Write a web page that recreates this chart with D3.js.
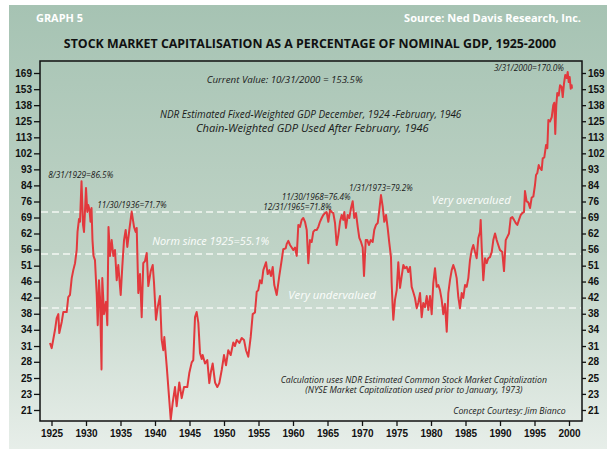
<!DOCTYPE html>
<html lang="en">
<head>
    <meta charset="UTF-8">
    <title>Stock Market Capitalisation / GDP</title>
    <script src="https://d3js.org/d3.v7.min.js"></script>
    <style>
        body { margin: 0; background: #fff; }
        svg { display: block; font-family: "Open Sans", "Noto Sans", sans-serif; }
        .axis text { font-size: 10px; font-weight: 700; fill: #111; }
        .axis path { display: none; }
        .axis line { stroke: #111; stroke-width: 1.3px; }
        .note { font-style: italic; fill: #1a1a1a; }
        .band-label { font-style: italic; fill: #fbfdfb; }
    </style>
</head>
<body>
<svg width="607" height="449"></svg>
<script>
// decimal year of each reading
const dates = [
    1924.78, 1925.03, 1925.51, 1925.75, 1925.99, 1926.13, 1926.48, 1926.71, 1927.20, 1927.43,
    1927.68, 1927.93, 1928.16, 1928.41, 1928.65, 1928.77, 1928.99, 1929.13, 1929.35, 1929.57,
    1929.71, 1929.86, 1930.00, 1930.19, 1930.33, 1930.51, 1930.65, 1930.80, 1930.94, 1931.09,
    1931.30, 1931.55, 1931.70, 1931.88, 1932.03, 1932.25, 1932.36, 1932.61, 1932.90, 1933.09,
    1933.26, 1933.48, 1933.72, 1933.96, 1934.20, 1934.45, 1934.68, 1935.03, 1935.26, 1935.51,
    1935.75, 1935.99, 1936.28, 1936.62, 1936.96, 1937.20, 1937.35, 1937.58, 1937.83, 1938.07,
    1938.30, 1938.55, 1938.80, 1939.03, 1939.38, 1939.67, 1939.86, 1940.14, 1940.39, 1940.72,
    1940.97, 1941.20, 1941.35, 1941.70, 1942.07, 1942.28, 1942.57, 1942.90, 1943.14, 1943.52,
    1943.87, 1944.20, 1944.68, 1944.97, 1945.32, 1945.55, 1945.80, 1946.04, 1946.28, 1946.52,
    1946.77, 1946.91, 1947.25, 1947.58, 1947.87, 1948.12, 1948.36, 1948.70, 1949.03, 1949.32,
    1949.67, 1950.00, 1950.29, 1950.62, 1950.97, 1951.35, 1951.59, 1951.84, 1952.22, 1952.57,
    1952.90, 1953.19, 1953.52, 1953.87, 1954.16, 1954.49, 1954.74, 1954.97, 1955.22, 1955.46,
    1955.70, 1956.09, 1956.33, 1956.57, 1956.81, 1957.06, 1957.29, 1957.64, 1958.01, 1958.36,
    1958.59, 1958.94, 1959.09, 1959.32, 1959.57, 1959.81, 1960.04, 1960.29, 1960.54, 1960.77,
    1961.01, 1961.26, 1961.49, 1961.74, 1961.99, 1962.22, 1962.46, 1962.71, 1962.94, 1963.19,
    1963.43, 1963.67, 1963.91, 1964.16, 1964.39, 1964.64, 1964.88, 1965.12, 1965.36, 1965.61,
    1965.84, 1966.09, 1966.33, 1966.57, 1966.81, 1967.06, 1967.29, 1967.43, 1967.68, 1967.93,
    1968.16, 1968.41, 1968.65, 1968.88, 1969.13, 1969.38, 1969.61, 1969.86, 1970.10, 1970.29,
    1970.54, 1970.77, 1971.01, 1971.26, 1971.55, 1971.78, 1972.03, 1972.28, 1972.51, 1972.75,
    1973.00, 1973.23, 1973.48, 1973.72, 1973.96, 1974.20, 1974.30, 1974.45, 1974.54, 1974.78,
    1975.03, 1975.26, 1975.51, 1975.75, 1975.99, 1976.23, 1976.48, 1976.71, 1976.96, 1977.20,
    1977.43, 1977.68, 1977.93, 1978.16, 1978.41, 1978.65, 1978.88, 1979.13, 1979.38, 1979.61,
    1979.86, 1980.10, 1980.33, 1980.58, 1980.83, 1981.06, 1981.30, 1981.55, 1981.78, 1982.03,
    1982.28, 1982.51, 1982.75, 1983.00, 1983.23, 1983.48, 1983.72, 1983.96, 1984.20, 1984.45,
    1984.68, 1984.93, 1985.17, 1985.41, 1985.65, 1985.90, 1986.13, 1986.38, 1986.62, 1986.86,
    1987.10, 1987.20, 1987.35, 1987.58, 1987.83, 1988.07, 1988.30, 1988.55, 1988.80, 1989.03,
    1989.28, 1989.52, 1989.75, 1990.00, 1990.33, 1990.58, 1990.83, 1991.06, 1991.30, 1991.55,
    1991.78, 1992.03, 1992.28, 1992.51, 1992.75, 1993.00, 1993.23, 1993.48, 1993.62, 1993.86,
    1994.10, 1994.35, 1994.59, 1994.83, 1995.07, 1995.22, 1995.41, 1995.61, 1995.80, 1996.04,
    1996.19, 1996.42, 1996.67, 1996.86, 1997.01, 1997.25, 1997.50, 1997.72, 1997.87, 1998.01,
    1998.16, 1998.30, 1998.51, 1998.70, 1998.94, 1999.09, 1999.28, 1999.46, 1999.67, 1999.81,
    1999.96, 2000.10, 2000.25, 2000.39, 2000.43
];

// market cap as % of nominal GDP
const capToGdp = [
    31.8, 30.8, 34.5, 37.1, 38.0, 33.8, 36.2, 38.5, 38.5, 42.2,
    42.8, 47.5, 49.9, 52.1, 56.5, 63.2, 68.5, 67.3, 86.5, 66.0,
    63.2, 72.4, 83.0, 71.5, 74.7, 72.4, 67.3, 73.3, 60.1, 54.5,
    53.1, 43.0, 35.5, 46.9, 42.2, 27.0, 47.5, 38.0, 41.0, 35.5,
    65.2, 54.5, 60.1, 54.5, 56.5, 46.9, 51.5, 42.8, 51.0, 60.1,
    64.0, 57.6, 64.0, 71.7, 65.2, 63.2, 64.8, 43.3, 48.7, 37.3,
    52.1, 52.8, 55.5, 45.2, 49.6, 51.5, 46.0, 36.7, 39.7, 42.5,
    32.4, 30.4, 33.0, 27.5, 22.3, 19.8, 22.0, 24.2, 21.5, 24.9,
    22.6, 24.2, 24.2, 26.4, 28.2, 28.6, 37.3, 38.5, 36.0, 29.9,
    28.8, 29.5, 28.0, 28.6, 24.8, 26.7, 28.0, 24.9, 24.2, 24.8,
    26.9, 29.5, 27.7, 30.4, 29.5, 31.9, 31.2, 32.4, 31.8, 32.8,
    32.4, 30.4, 29.2, 33.0, 38.0, 38.4, 43.6, 44.1, 46.9, 46.0,
    49.9, 52.4, 48.7, 49.9, 48.1, 50.9, 45.5, 42.8, 48.1, 53.1,
    56.8, 57.1, 58.7, 59.8, 58.3, 57.4, 56.5, 57.4, 54.5, 66.0,
    65.2, 68.1, 68.9, 67.3, 64.0, 52.1, 60.1, 59.4, 63.2, 64.0,
    64.0, 65.2, 67.3, 68.9, 70.2, 71.0, 71.5, 67.3, 72.4, 71.5,
    71.0, 66.8, 58.3, 62.0, 67.3, 70.2, 68.1, 71.5, 64.8, 70.2,
    68.9, 73.3, 76.4, 68.9, 71.0, 65.2, 60.9, 59.4, 57.4, 48.1,
    60.1, 60.1, 58.3, 60.1, 59.4, 64.0, 66.0, 66.8, 72.4, 79.4,
    73.9, 67.3, 70.2, 64.8, 59.0, 54.1, 46.0, 39.4, 36.7, 41.5,
    44.1, 52.4, 44.7, 48.1, 51.5, 50.5, 50.9, 49.3, 50.9, 45.0,
    43.6, 42.0, 39.4, 40.8, 43.3, 37.3, 40.7, 39.7, 42.5, 39.0,
    42.5, 38.0, 46.0, 50.5, 45.0, 45.5, 44.1, 41.5, 38.0, 40.5,
    34.1, 43.3, 46.9, 49.9, 51.5, 49.9, 47.5, 42.2, 39.4, 43.3,
    42.0, 45.5, 45.0, 47.5, 53.1, 56.5, 58.3, 55.8, 53.7, 60.9,
    63.2, 68.1, 57.4, 46.9, 53.7, 52.1, 53.7, 54.1, 55.8, 60.1,
    62.6, 60.1, 58.3, 56.5, 55.8, 49.6, 60.1, 61.3, 62.6, 68.9,
    69.3, 68.1, 66.8, 66.0, 68.1, 70.2, 71.0, 71.5, 81.4, 76.4,
    75.9, 73.3, 78.2, 78.7, 84.5, 89.9, 91.0, 95.6, 93.8, 92.7,
    99.6, 100.2, 108.2, 106.1, 126.4, 125.2, 128.6, 138.6, 140.6, 115.9,
    138.6, 149.3, 147.0, 156.7, 155.0, 145.6, 158.6, 166.9, 163.8, 170.0,
    159.8, 164.9, 153.3, 156.7, 153.5
];

// dashed valuation bands: very overvalued, norm, very undervalued
const bandValues = [71.5, 55.1, 39.5];
const bandNames = ["Very overvalued", "Norm since 1925=55.1%", "Very undervalued"];

const xTicks = [1925, 1930, 1935, 1940, 1945, 1950, 1955, 1960, 1965, 1970, 1975, 1980, 1985, 1990, 1995, 2000];
const yTickValues = [21, 23.2, 25.6, 28.3, 31.2, 34.5, 38.1, 42.1, 46.5, 51.3, 56.7, 62.6, 69.1, 76.3, 84.3, 93.1, 102.8, 113.5, 125.4, 138.5, 152.9, 169];
const yTickLabels = ["21", "23", "25", "28", "31", "34", "38", "42", "46", "51", "56", "62", "69", "76", "84", "93", "102", "113", "125", "138", "153", "169"];

const svg = d3.select("svg");

// frame of the plot
const plot = { left: 40, right: 582, top: 61, bottom: 421 };

const x = d3.scaleLinear().domain([1925, 2000]).range([51.5, 569]);
const y = d3.scaleLog().domain([21, 169]).range([410, 73]);

// background panel
const defs = svg.append("defs");
const grad = defs.append("linearGradient")
    .attr("id", "bg").attr("x1", 0).attr("y1", 0).attr("x2", 0).attr("y2", 1);
grad.append("stop").attr("offset", "0%").attr("stop-color", "#a6c3b3");
grad.append("stop").attr("offset", "55%").attr("stop-color", "#bfd3c6");
grad.append("stop").attr("offset", "100%").attr("stop-color", "#e7eee9");

svg.append("rect")
    .attr("x", 9).attr("y", 5).attr("width", 598).attr("height", 444)
    .attr("fill", "url(#bg)");

// fit a text element to a measured width
function fit(sel, width) {
    const len = sel.node().getComputedTextLength();
    const size = parseFloat(sel.style("font-size"));
    sel.style("font-size", (size * width / len).toFixed(2) + "px");
    return sel;
}

// header
fit(svg.append("text").attr("x", 36).attr("y", 22)
    .attr("fill", "#fff").attr("font-weight", 700).style("font-size", "11px")
    .text("GRAPH 5"), 47);
fit(svg.append("text").attr("x", 581).attr("y", 22).attr("text-anchor", "end")
    .attr("fill", "#fff").attr("font-weight", 700).style("font-size", "11px")
    .text("Source: Ned Davis Research, Inc."), 177);
fit(svg.append("text").attr("x", 310).attr("y", 48).attr("text-anchor", "middle")
    .attr("fill", "#111").attr("font-weight", 700).style("font-size", "12px")
    .text("STOCK MARKET CAPITALISATION AS A PERCENTAGE OF NOMINAL GDP, 1925-2000"), 493);

// dashed band lines
svg.append("g").selectAll("line")
    .data(bandValues)
    .enter().append("line")
    .attr("x1", plot.left + 1).attr("x2", plot.right - 1)
    .attr("y1", d => y(d)).attr("y2", d => y(d))
    .attr("stroke", "#f4f7f4")
    .attr("stroke-width", 1.5)
    .attr("stroke-dasharray", "7,4");

// band labels
const bandLabelPos = [[431.7, 204, 79], [152.3, 245, 117], [288.3, 299.3, 87.4]];
bandNames.forEach((name, i) => {
    const p = bandLabelPos[i];
    fit(svg.append("text").attr("class", "band-label")
        .attr("x", p[0]).attr("y", p[1]).style("font-size", "11px").text(name), p[2]);
});

// the series
const series = dates.map((d, i) => ({ year: d, value: capToGdp[i] }));
const line = d3.line()
    .x(d => x(d.year))
    .y(d => y(d.value));

svg.append("path")
    .datum(series)
    .attr("fill", "none")
    .attr("stroke", "#e2393d")
    .attr("stroke-width", 2)
    .attr("stroke-linejoin", "round")
    .attr("d", line);

// frame
svg.append("rect")
    .attr("x", plot.left).attr("y", plot.top)
    .attr("width", plot.right - plot.left).attr("height", plot.bottom - plot.top)
    .attr("fill", "none").attr("stroke", "#111").attr("stroke-width", 1.5);

// axes
svg.append("g").attr("class", "axis")
    .attr("transform", `translate(${plot.left},0)`)
    .call(d3.axisLeft(y).tickValues(yTickValues).tickFormat((d, i) => yTickLabels[i])
        .tickSize(6).tickPadding(2));

svg.append("g").attr("class", "axis")
    .attr("transform", `translate(${plot.right},0)`)
    .call(d3.axisRight(y).tickValues(yTickValues).tickFormat((d, i) => yTickLabels[i])
        .tickSize(4).tickPadding(2));

svg.append("g").attr("class", "axis")
    .attr("transform", `translate(0,${plot.bottom})`)
    .call(d3.axisBottom(x).tickValues(xTicks).tickFormat(d3.format("d"))
        .tickSize(5).tickPadding(4));

// notes: [text, x, baseline, width]
const notes = [
    ["8/31/1929=86.5%", 48.3, 178, 65],
    ["11/30/1936=71.7%", 97.3, 207.7, 69.4],
    ["12/31/1965=71.8%", 263.3, 210, 68.3],
    ["11/30/1968=76.4%", 281.7, 200, 69],
    ["1/31/1973=79.2%", 349, 191, 63.7],
    ["3/31/2000=170.0%", 494, 71, 70],
    ["Current Value: 10/31/2000 = 153.5%", 206.7, 83.3, 156],
    ["NDR Estimated Fixed-Weighted GDP December, 1924 -February, 1946", 160, 117.5, 301.7],
    ["Chain-Weighted GDP Used After February, 1946", 196, 132, 233],
    ["Calculation uses NDR Estimated Common Stock Market Capitalization", 280.7, 382.5, 266.6],
    ["(NYSE Market Capitalization used prior to January, 1973)", 305.3, 393, 217.4],
    ["Concept Courtesy: Jim Bianco", 453.3, 414, 112.4]
];
notes.forEach(n => {
    fit(svg.append("text").attr("class", "note")
        .attr("x", n[1]).attr("y", n[2]).style("font-size", "9px").text(n[0]), n[3]);
});
</script>
</body>
</html>
